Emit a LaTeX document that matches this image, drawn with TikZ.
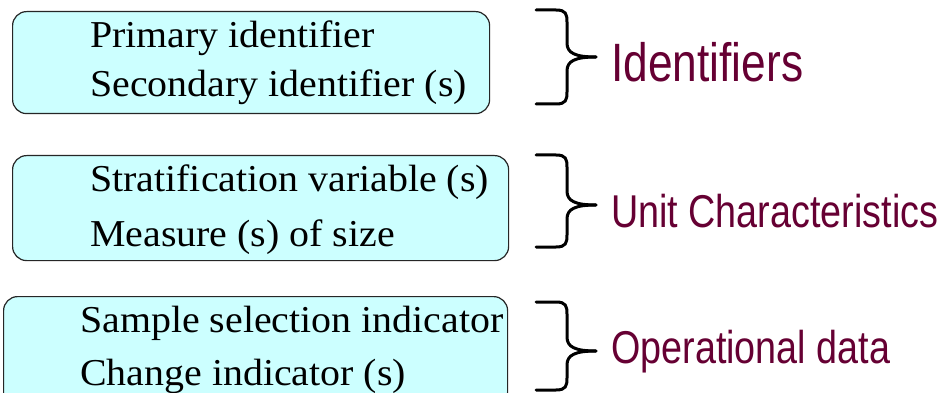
\documentclass[tikz,border=0pt]{standalone}
\usepackage{fontspec}
\setmainfont[FakeStretch=1.05]{Liberation Serif}
\newfontfamily\labfont[FakeStretch=0.82]{Liberation Sans}
\definecolor{boxfill}{HTML}{CCFFFF}
\definecolor{labcol}{HTML}{660033}
\begin{document}
\begin{tikzpicture}[x=1pt,y=-1pt,
  box/.style={draw=black!85, line width=1.2pt, fill=boxfill, rounded corners=14pt, anchor=north west, inner sep=0pt},
  txt/.style={anchor=base west, inner sep=0pt, font=\fontsize{38}{41}\selectfont},
  lab/.style={anchor=base west, inner sep=0pt, text=labcol},
  brace/.style={line width=3pt, line cap=round, line join=round}]
\clip (0,0) rectangle (946,393);
\fill[white] (0,0) rectangle (946,393);
% boxes
\node[box, minimum width=477pt, minimum height=102pt] (b1) at (12,11) {};
\node[box, minimum width=496pt, minimum height=105pt] (b2) at (12,155) {};
\node[box, minimum width=504pt, minimum height=110pt] (b3) at (3,296) {};
% texts
\node[txt] (t1a) at (90,48) {Primary identifier};
\node[txt] (t1b) at (90,97) {Secondary identifier (s)};
\node[txt] (t2a) at (90,192) {Stratification variable (s)};
\node[txt] (t2b) at (90,247) {Measure (s) of size};
\node[txt] (t3a) at (80,332) {Sample selection indicator};
\node[txt] (t3b) at (80,385) {Change indicator (s)};
% braces
\foreach \n/\top/\tip/\bot in {1/10/57/104, 2/155/205/247, 3/302/351/390}{
  \draw[brace] (536,\top) -- (556,\top) .. controls (566,\top) and (567,\top+4) .. (567,\top+12)
    -- (567,\tip-14) .. controls (567,\tip-4) and (575,\tip) .. (596,\tip);
  \draw[brace] (536,\bot) -- (556,\bot) .. controls (566,\bot) and (567,\bot-4) .. (567,\bot-12)
    -- (567,\tip+14) .. controls (567,\tip+4) and (575,\tip) .. (596,\tip);
}
% labels
\node[lab, font=\labfont\fontsize{54}{58}\selectfont] (l1) at (611,82) {Identifiers};
\node[lab, font=\labfont\fontsize{46}{50}\selectfont] (l2) at (611,227) {Unit Characteristics};
\node[lab, font=\labfont\fontsize{46}{50}\selectfont] (l3) at (611,363) {Operational data};
\end{tikzpicture}
\end{document}
